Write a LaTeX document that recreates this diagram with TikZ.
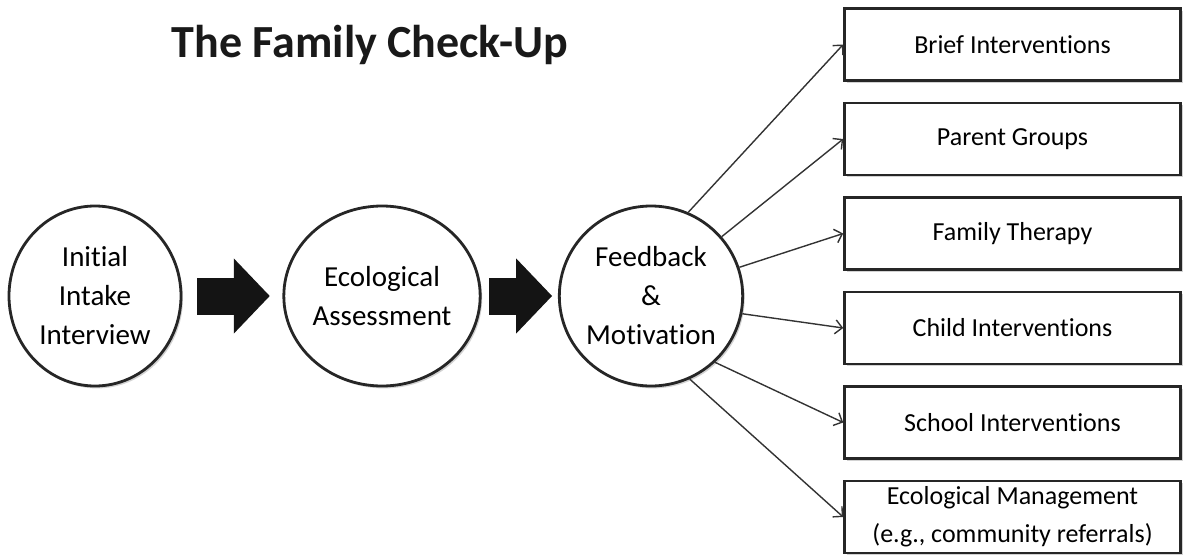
\documentclass[tikz,border=0pt]{standalone}
\usepackage{fontspec}
\setmainfont{Carlito}[Ligatures={NoCommon}]
\usetikzlibrary{shapes.geometric, arrows.meta, shadows}

\begin{document}
\begin{tikzpicture}[
  x=0.5pt, y=-0.5pt,
  every node/.style={font=\fontsize{13pt}{19pt}\selectfont},
  title/.style={
    text=black!90, inner sep=0pt,
    font=\fontsize{23pt}{27pt}\selectfont\bfseries
  },
  stage/.style={
    ellipse, draw=black!85, line width=1.4pt, fill=white,
    minimum width=86pt, minimum height=90pt, inner sep=0pt,
    align=center, font=\fontsize{14.5pt}{19.5pt}\selectfont,
    drop shadow={shadow xshift=1pt, shadow yshift=-1.2pt,
      fill=black!35, opacity=0.5}
  },
  option/.style={
    rectangle, draw=black!85, line width=1.3pt, fill=white,
    minimum width=168pt, minimum height=36pt, inner sep=1pt,
    align=center,
    drop shadow={shadow xshift=1pt, shadow yshift=-1.2pt,
      fill=black!35, opacity=0.5}
  },
  bigarr/.style={
    line width=18.5pt, black!92,
    -{Triangle[length=18pt, width=36.5pt]}
  },
  link/.style={
    black!80, line width=0.7pt,
    -{Straight Barb[length=3.5pt, width=7pt]}
  }
]
\useasboundingbox (0,0) rectangle (1189,557);

% Title
\node[title] (title) at (370,45) {The Family Check-Up};

% Main stages
\node[stage] (intake) at (95,296)
{Initial\\Intake\\Interview};

\node[stage] (assess) at (382,296)
{Ecological\\Assessment};

\node[stage] (feedback) at (651,296)
{Feedback\\\&\\Motivation};

% Options
\node[option] (brief) at (1012.5,44.5) {Brief Interventions};
\node[option] (groups) at (1012.5,139) {Parent Groups};
\node[option] (therapy) at (1012.5,233.5) {Family Therapy};
\node[option] (child) at (1012.5,328) {Child Interventions};
\node[option] (school) at (1012.5,422.5) {School Interventions};
\node[option] (ecomgmt) at (1012.5,517)
{Ecological Management\\(e.g., community referrals)};

% Block arrows
\draw[bigarr, shorten <=7.3pt, shorten >=6.3pt] (intake.east) -- (assess.west);
\draw[bigarr, shorten <=3.9pt, shorten >=2.9pt] (assess.east) -- (feedback.west);

% Links to options
\draw[link] (feedback.66) -- (brief.west);
\draw[link] (feedback.40) -- (groups.west);
\draw[link] (feedback.18) -- (therapy.west);
\draw[link] (feedback.-11) -- (child.west);
\draw[link] (feedback.-46) -- (school.west);
\draw[link] (feedback.-65) -- (ecomgmt.west);

\end{tikzpicture}
\end{document}
